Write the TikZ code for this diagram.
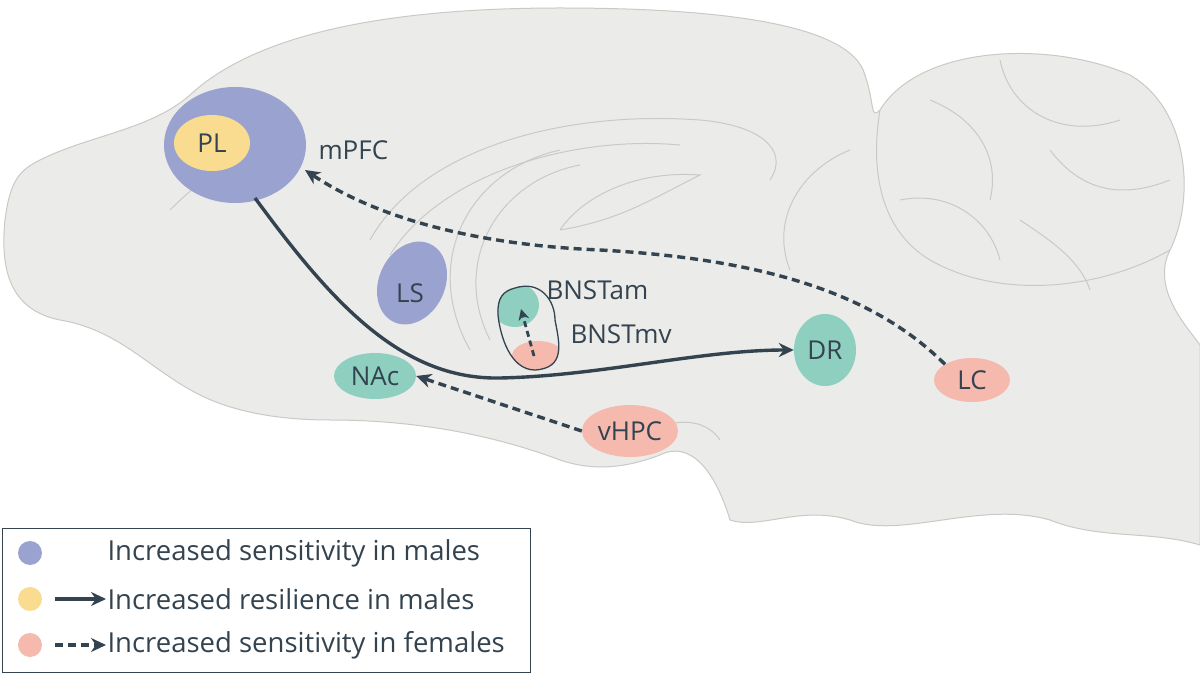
\documentclass[tikz,border=0pt]{standalone}
\usepackage{fontspec}
\setmainfont{Open Sans}
\usetikzlibrary{arrows.meta,shapes.geometric}
\definecolor{brain}{HTML}{EBEBE9}
\definecolor{brainline}{HTML}{C9C9C6}
\definecolor{blu}{HTML}{9AA3CF}
\definecolor{yel}{HTML}{F9DC8F}
\definecolor{tea}{HTML}{8FCFC0}
\definecolor{pnk}{HTML}{F6B9AE}
\definecolor{dark}{HTML}{33434F}
\tikzset{
 reg/.style={ellipse,inner sep=0pt,font=\fontsize{26}{26}\selectfont,text=dark},
 lab/.style={font=\fontsize{26}{26}\selectfont,text=dark},
 sol/.style={draw=dark,line width=3.4pt,-{Stealth[length=15pt,width=14pt]}},
 das/.style={draw=dark,line width=3.4pt,dash pattern=on 8pt off 5pt,-{Stealth[length=15pt,width=14pt]}},
 inner/.style={draw=brainline,line width=1pt}
}
\begin{document}
\begin{tikzpicture}[x=1pt,y=-1pt]
\useasboundingbox (0,0) rectangle (1200,676);
\fill[white] (0,0) rectangle (1200,676);
% brain body
\path[fill=brain,draw=brainline,line width=1pt]
 (40,160) .. controls (90,135) and (150,130) .. (190,95)
 .. controls (260,30) and (400,8) .. (560,8)
 .. controls (700,8) and (850,20) .. (865,75)
 .. controls (875,105) and (870,120) .. (880,110)
 .. controls (920,45) and (1050,40) .. (1130,75)
 .. controls (1190,110) and (1195,200) .. (1170,250)
 .. controls (1150,290) and (1190,330) .. (1200,345)
 -- (1200,545)
 .. controls (1150,530) and (1100,540) .. (1050,520)
 .. controls (980,500) and (900,540) .. (850,520)
 .. controls (800,505) and (760,530) .. (730,520)
 .. controls (715,470) and (690,440) .. (660,455)
 .. controls (620,470) and (590,470) .. (560,460)
 .. controls (480,430) and (400,420) .. (330,420)
 .. controls (260,420) and (220,405) .. (200,395)
 .. controls (150,370) and (120,330) .. (60,320)
 .. controls (10,310) and (0,270) .. (5,220)
 .. controls (10,180) and (20,170) .. (40,160) -- cycle;
% inner lines
\draw[inner] (170,210) .. controls (200,180) and (230,160) .. (260,140);
\draw[inner] (370,240) .. controls (420,150) and (560,110) .. (700,120) .. controls (760,125) and (790,150) .. (770,180);
\draw[inner] (390,255) .. controls (440,175) and (570,135) .. (680,145);
\draw[inner] (470,350) .. controls (420,260) and (470,170) .. (560,150);
\draw[inner] (490,340) .. controls (450,260) and (500,180) .. (580,165);
\draw[inner] (560,230) .. controls (580,200) and (630,170) .. (700,175) .. controls (650,200) and (620,220) .. (560,230);
\draw[inner] (790,270) .. controls (770,220) and (800,170) .. (850,150);
\draw[inner] (880,110) .. controls (870,170) and (880,230) .. (930,260) .. controls (1000,300) and (1100,290) .. (1170,250);
\draw[inner] (930,100) .. controls (980,120) and (1000,160) .. (990,200);
\draw[inner] (1000,60) .. controls (1010,110) and (1060,140) .. (1120,120);
\draw[inner] (900,200) .. controls (950,190) and (990,220) .. (1000,260);
\draw[inner] (1050,150) .. controls (1080,190) and (1120,200) .. (1170,180);
\draw[inner] (1020,220) .. controls (1050,240) and (1080,260) .. (1090,290);
\draw[inner] (620,455) .. controls (650,420) and (700,410) .. (720,440);
% regions
\node[reg,fill=blu,minimum width=142pt,minimum height=116pt] (mpfc) at (235,145) {};
\node[reg,fill=yel,minimum width=76pt,minimum height=56pt] (pl) at (212,143) {PL};
\node[lab,anchor=west] (mpfct) at (315,150) {mPFC};
\node[reg,fill=blu,minimum width=66pt,minimum height=86pt,rotate=-25] (ls) at (412,283) {};
\node[lab] at (410,293) {LS};
\node[reg,fill=tea,minimum width=82pt,minimum height=46pt] (nac) at (375,376) {NAc};
\node[reg,fill=pnk,minimum width=96pt,minimum height=52pt] (vhpc) at (630,431) {vHPC};
\node[reg,fill=tea,minimum width=62pt,minimum height=72pt] (dr) at (825,350) {DR};
\node[reg,fill=pnk,minimum width=76pt,minimum height=44pt] (lc) at (972,380) {LC};
% BNST
\begin{scope}
\clip (515,288) .. controls (540,280) and (555,300) .. (555,320) .. controls (560,345) and (565,368) .. (535,370) .. controls (510,370) and (500,335) .. (498,315) .. controls (497,298) and (503,291) .. (515,288) -- cycle;
\fill[brain] (495,280) rectangle (570,375);
\fill[tea] (515,305) ellipse (24pt and 22pt);
\fill[pnk] (538,356) ellipse (26pt and 15pt);
\end{scope}
\draw[dark,line width=1.3pt] (515,288) .. controls (540,280) and (555,300) .. (555,320) .. controls (560,345) and (565,368) .. (535,370) .. controls (510,370) and (500,335) .. (498,315) .. controls (497,298) and (503,291) .. (515,288) -- cycle;
\node[lab,anchor=west] (bam) at (543,290) {BNSTam};
\node[lab,anchor=west] (bmv) at (567,334) {BNSTmv};
\coordinate (bs) at (534,356);
\coordinate (be) at (521,309);
\draw[das,line width=2.8pt,dash pattern=on 6pt off 4pt,-{Stealth[length=11pt,width=11pt]}] (bs) -- (be);
% arrows
\draw[sol] (255,198) .. controls (330,300) and (400,380) .. (500,378) .. controls (600,376) and (700,350) .. (dr.west);
\draw[das] (lc.north west) .. controls (880,300) and (780,260) .. (600,250) .. controls (480,245) and (380,220) .. (305,170);
\draw[das] (vhpc.west) -- (nac.east);
% legend
\draw[dark,line width=1pt] (2,528) rectangle (530,672);
\fill[blu] (30,553) circle (12pt);
\fill[yel] (30,599) circle (12pt);
\fill[pnk] (30,645) circle (12pt);
\coordinate (l1) at (55,599); \coordinate (l2) at (106,599);
\coordinate (l3) at (55,645); \coordinate (l4) at (106,645);
\draw[sol] (l1) -- (l2);
\draw[das] (l3) -- (l4);
\node[lab,anchor=west,font=\fontsize{27.5}{28}\selectfont] at (104,553) {Increased sensitivity in males};
\node[lab,anchor=west,font=\fontsize{27.5}{28}\selectfont] at (104,599) {Increased resilience in males};
\node[lab,anchor=west,font=\fontsize{27.5}{28}\selectfont] at (104,645) {Increased sensitivity in females};
\end{tikzpicture}
\end{document}
